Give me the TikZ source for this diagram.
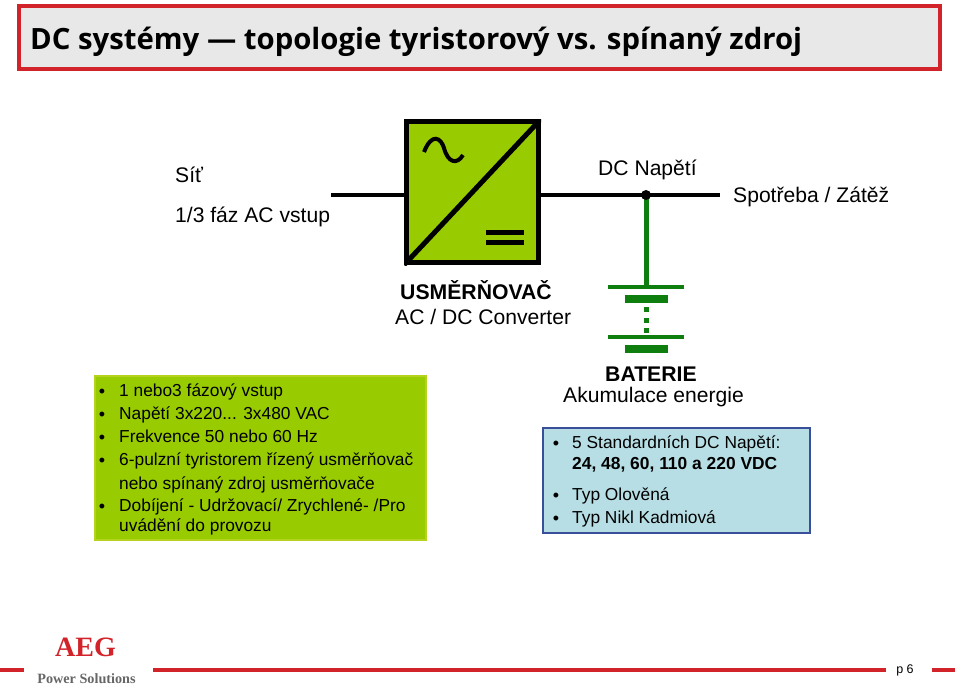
\documentclass[tikz,border=0pt]{standalone}
\usepackage{fontspec}
\setmainfont{Liberation Sans}
\newfontfamily\titlefont{Open Sans}
\newfontfamily\logofont{Liberation Serif}
\definecolor{aegred}{HTML}{D2232A}
\definecolor{lime}{HTML}{99CC00}
\definecolor{limeedge}{HTML}{B4D21E}
\definecolor{batgreen}{HTML}{0E7F0E}
\definecolor{paleblue}{HTML}{B7DEE4}
\definecolor{boxblue}{HTML}{3A4F9A}
\tikzset{
  lbl/.style={anchor=base west, inner sep=0pt, font=\fontsize{21.1}{24}\selectfont},
  boldlbl/.style={lbl, font=\fontsize{21.2}{24}\selectfont\bfseries},
  item/.style={lbl, font=\fontsize{17.35}{20}\selectfont},
  bulletmark/.style={inner sep=0pt, font=\fontsize{18}{18}\selectfont},
  plate/.style={draw=none, fill=batgreen, inner sep=0pt, minimum height=#1},
  redbar/.style={draw=none, fill=aegred, inner sep=0pt, minimum height=4pt}
}
\begin{document}
\begin{tikzpicture}[x=1pt, y=-1pt]
    \useasboundingbox (0,0) rectangle (960,685);
    % title
    \node[draw=aegred, line width=4pt, fill=black!9, inner sep=0pt, minimum width=921pt, minimum height=63pt] (titlebox) at (479.5,37.5) {};
    \node[anchor=base west, inner sep=0pt, font=\titlefont\fontsize{29.3}{34}\selectfont\bfseries] (title) at (30,50) {DC systémy — topologie tyristorový vs. spínaný zdroj};
    % converter
    \node[draw=black, line width=5pt, fill=lime, inner sep=0pt, minimum width=132pt, minimum height=141pt] (conv) at (472.5,192) {};
    \coordinate (acin) at (331,195);
    \coordinate (dcout) at (720,195);
    \coordinate (dcjoin) at (646,195);
    \draw[line width=4pt] (acin) -- (conv.west |- acin);
    \draw[line width=4pt] (conv.east |- dcout) -- (dcout);
    \begin{scope}
        \clip (conv.south west) rectangle (conv.north east);
        \draw[line width=5pt] (conv.south west) -- (conv.north east);
    \end{scope}
    \draw[line width=4pt] (424,152) .. controls (432,132) and (441,138) .. (444,148) .. controls (448,163) and (457,165) .. (463,155);
    \node[fill=black, inner sep=0pt, minimum width=38pt, minimum height=5pt] (eqa) at (505,232) {};
    \node[fill=black, inner sep=0pt, minimum width=38pt, minimum height=5pt] (eqb) at (505,242) {};
    % battery
    \node[plate=4pt, minimum width=76pt] (platea) at (646,287) {};
    \node[plate=8pt, minimum width=43pt] (plateb) at (646,299) {};
    \foreach \y/\n in {309/a, 320/b, 330/c}
        \node[plate=5pt, minimum width=5pt] (dot\n) at (646,\y) {};
    \node[plate=4pt, minimum width=76pt] (platec) at (646,337) {};
    \node[plate=8pt, minimum width=43pt] (plated) at (646,349) {};
    \draw[batgreen, line width=5pt] (dcjoin) -- (platea.north);
    \node[circle, fill=black, inner sep=0pt, minimum size=10pt] (joindot) at (dcjoin) {};
    % labels
    \node[lbl] (sit) at (175,182) {Síť};
    \node[lbl] (acfaz) at (175,222) {1/3 fáz AC vstup};
    \node[lbl] (dcnap) at (598,175) {DC Napětí};
    \node[lbl] (spotreba) at (733,202) {Spotřeba / Zátěž};
    \node[boldlbl] (usmer) at (400,299) {USMĚRŇOVAČ};
    \node[lbl] (acdc) at (395,324) {AC / DC Converter};
    \node[boldlbl] (bat) at (605,381) {BATERIE};
    \node[lbl] (akum) at (563,402) {Akumulace energie};
    % left list
    \node[draw=limeedge, line width=2pt, fill=lime, inner sep=0pt, minimum width=331pt, minimum height=164pt] (listbox) at (260.5,457.5) {};
    \foreach \y/\n/\t in {396/a/{1 nebo3 fázový vstup}, 419/b/{Napětí 3x220... 3x480 VAC}, 442/c/{Frekvence 50 nebo 60 Hz}, 465/d/{6-pulzní tyristorem řízený usměrňovač}, 489/e/{nebo spínaný zdroj usměrňovače}, 511/f/{Dobíjení - Udržovací/ Zrychlené- /Pro}, 531/g/{uvádění do provozu}}
        \node[item] (left\n) at (119,\y) {\t};
    \foreach \n in {a,b,c,d,f}
        \node[bulletmark] (leftb\n) at (102,0 |- left\n.base) [yshift=2.5pt] {•};
    % right list
    \node[draw=boxblue, line width=2pt, fill=paleblue, inner sep=0pt, minimum width=267pt, minimum height=105pt] (batbox) at (676.5,480) {};
    \foreach \y/\n/\t in {448/a/{5 Standardních DC Napětí:}, 500/c/{Typ Olověná}, 523/d/{Typ Nikl Kadmiová}}
        \node[item] (right\n) at (572,\y) {\t};
    \node[item, font=\fontsize{17.4}{20}\selectfont\bfseries] (rightb) at (572,469) {24, 48, 60, 110 a 220 VDC};
    \foreach \n in {a,c,d}
        \node[bulletmark] (rightb\n) at (556,0 |- right\n.base) [yshift=2.5pt] {•};
    % footer
    \node[redbar, minimum width=24pt] (bara) at (12,669.5) {};
    \node[redbar, minimum width=733pt] (barb) at (519.5,669.5) {};
    \node[redbar, minimum width=23pt] (barc) at (943.5,669.5) {};
    \node[inner sep=0pt, font=\fontsize{12.5}{14}\selectfont] (page) at (905,670) {p 6};
    \node[inner sep=0pt, text=aegred, font=\logofont\fontsize{28}{30}\selectfont\bfseries] (aeg) at (85.5,647) {AEG};
    \node[inner sep=0pt, text=black!60, font=\logofont\fontsize{14.2}{16}\selectfont\bfseries] (power) at (86.5,678.5) {Power Solutions};
\end{tikzpicture}
\end{document}
